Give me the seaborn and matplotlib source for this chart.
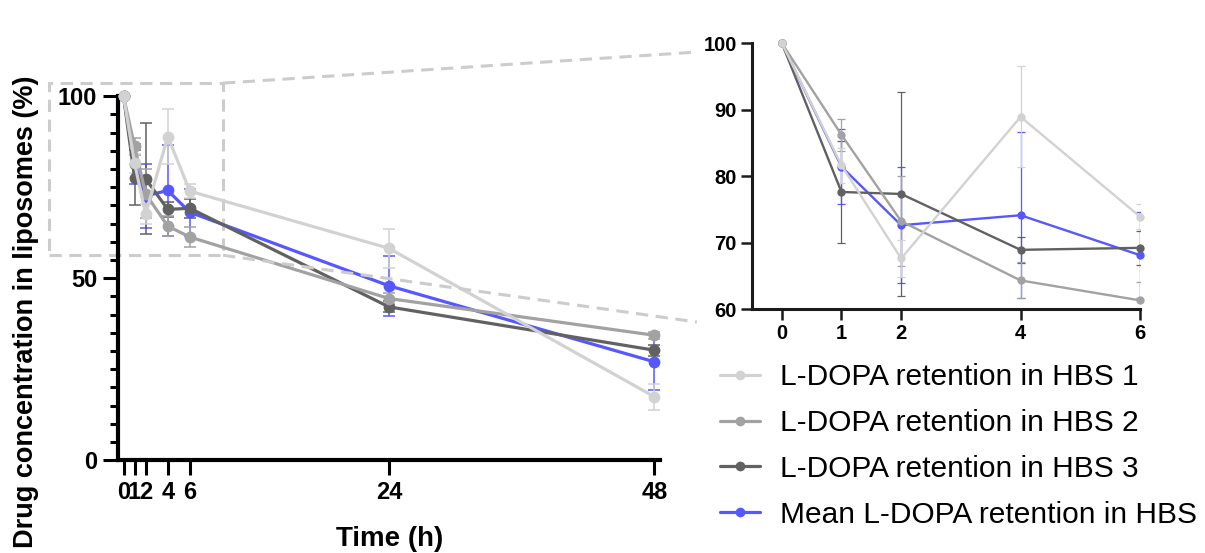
import numpy as np
import pandas as pd
import matplotlib
matplotlib.use("Agg")
import matplotlib.pyplot as plt
import seaborn as sns
from matplotlib.patches import Rectangle
from matplotlib.lines import Line2D
from matplotlib.ticker import MultipleLocator

# ---------------- data ----------------
time_h = [0, 1, 2, 4, 6, 24, 48]
time_labels = ["0", "1", "2", "4", "6", "24", "48"]
series_names = ["L-DOPA retention in HBS 1", "L-DOPA retention in HBS 2",
                "L-DOPA retention in HBS 3", "Mean L-DOPA retention in HBS"]
hbs1 = [100, 81.6, 67.6, 88.9, 73.9, 58.2, 17.4]
hbs1_sd = [0, 2.6, 2.8, 7.6, 1.9, 5.3, 3.5]
hbs2 = [100, 86.2, 73.2, 64.3, 61.3, 44.4, 34.3]
hbs2_sd = [0, 2.4, 6.8, 2.7, 2.8, 1.5, 1.0]
hbs3 = [100, 77.6, 77.3, 68.9, 69.2, 42.1, 30.2]
hbs3_sd = [0, 7.6, 15.3, 2.0, 2.6, 1.5, 1.5]
mean_ret = [100, 81.4, 72.6, 74.1, 68.1, 47.9, 27.0]
mean_sd = [0, 5.6, 8.7, 12.5, 6.5, 8.2, 7.6]
inset_ticks = [0, 1, 2, 4, 6]

colors = ["#d2d2d2", "#a2a2a2", "#616161", "#5757ff"]
values = [hbs1, hbs2, hbs3, mean_ret]
sds = [hbs1_sd, hbs2_sd, hbs3_sd, mean_sd]

rows = []
for name, v, s in zip(series_names, values, sds):
    for t, y, e in zip(time_h, v, s):
        rows.append({"Time": t, "Retention": y, "SD": e, "Series": name})
df = pd.DataFrame(rows)

sns.set_theme(style="ticks")
plt.rcParams["font.family"] = ["Liberation Sans", "DejaVu Sans"]
plt.rcParams["text.color"] = "black"
plt.rcParams["xtick.color"] = "black"
plt.rcParams["ytick.color"] = "black"
plt.rcParams["axes.labelcolor"] = "black"
narrow = ["Liberation Sans Narrow", "Liberation Sans", "DejaVu Sans"]

fig = plt.figure(figsize=(12.05, 5.53), dpi=100)
ax = fig.add_axes([0.0979, 0.168, 0.4498, 0.658])
axi = fig.add_axes([0.624, 0.4412, 0.322, 0.481])

palette = dict(zip(series_names, colors))
draw_order = series_names[::-1]  # mean drawn first, HBS 1 on top


def draw(a, d, lw, ms, elw, cap):
    for name in draw_order:
        sub = d[d["Series"] == name]
        a.errorbar(sub["Time"], sub["Retention"], yerr=sub["SD"], fmt="none",
                   ecolor=palette[name], elinewidth=elw, capsize=cap,
                   capthick=elw, zorder=2)
    sns.lineplot(data=d, x="Time", y="Retention", hue="Series",
                 hue_order=draw_order, palette=palette, marker="o",
                 markersize=ms, markeredgewidth=0, linewidth=lw,
                 ax=a, legend=False, zorder=3, clip_on=False)


draw(ax, df, 2.3, 8.5, 1.1, 4)
draw(axi, df[df["Time"] <= 6], 1.7, 6, 0.9, 3.0)

# main axes styling
ax.set_xlim(-0.5, 48.5)
ax.set_ylim(0, 100)
ax.set_xticks(time_h)
ax.set_xticklabels(time_labels)
ax.set_yticks([0, 50, 100])
ax.yaxis.set_minor_locator(MultipleLocator(5))
for s in ["top", "right"]:
    ax.spines[s].set_visible(False)
for s in ["left", "bottom"]:
    ax.spines[s].set_linewidth(3.0)
    ax.spines[s].set_color("black")
ax.tick_params(axis="both", which="major", length=11, width=2.2, direction="out",
               color="black", labelsize=17, pad=4, labelcolor="black")
ax.tick_params(axis="y", which="minor", length=6, width=2.2, color="black")
for lab in ax.get_xticklabels() + ax.get_yticklabels():
    lab.set_fontweight("bold")
    lab.set_family(narrow)
ax.set_xlabel("Time (h)", fontsize=20, fontweight="bold", va="top")
ax.set_ylabel("Drug concentration in liposomes (%)", fontsize=19.5,
              fontweight="bold")
ax.xaxis.set_label_coords(0.502, -0.181)
ax.yaxis.set_label_coords(-0.145, 0.407)

# inset styling
axi.set_xlim(-0.5, 6)
axi.set_ylim(60, 100)
axi.set_xticks(inset_ticks)
axi.set_yticks([60, 70, 80, 90, 100])
for s in ["top", "right"]:
    axi.spines[s].set_visible(False)
for s in ["left", "bottom"]:
    axi.spines[s].set_linewidth(2.2)
    axi.spines[s].set_color("#1a1a1a")
axi.tick_params(axis="both", which="major", length=8, width=1.8, direction="out",
                color="#1a1a1a", labelsize=14.5, pad=3, labelcolor="black")
for lab in axi.get_xticklabels() + axi.get_yticklabels():
    lab.set_fontweight("bold")
    lab.set_family(narrow)
axi.set_xlabel("")
axi.set_ylabel("")

# zoom rectangle and connectors
dash_kw = dict(color="#cccccc", linewidth=2.2, linestyle=(0, (4, 2.5)))
rect = Rectangle((-6.7, 56.3), 15.7, 47.3, fill=False, clip_on=False,
                 zorder=1, **dash_kw)
ax.add_patch(rect)
to_fig = fig.transFigure.inverted()
for ya, yb in [(103.6, 0.966), (56.3, -0.049)]:
    pa = to_fig.transform(ax.transData.transform((9.0, ya)))
    pb = to_fig.transform(axi.transAxes.transform((-0.142, yb)))
    fig.add_artist(Line2D([pa[0], pb[0]], [pa[1], pb[1]],
                          transform=fig.transFigure, zorder=1, **dash_kw))

# legend
handles = [plt.Line2D([], [], color=c, marker="o", markersize=7,
                      markeredgewidth=0, linewidth=2.3) for c in colors]
fig.legend(handles, series_names, loc="upper left",
           bbox_to_anchor=(0.588, 0.365), frameon=False, fontsize=21.5,
           handlelength=1.33, handletextpad=0.67, labelspacing=0.6,
           borderaxespad=0)

fig.savefig("out.png", dpi=100)
